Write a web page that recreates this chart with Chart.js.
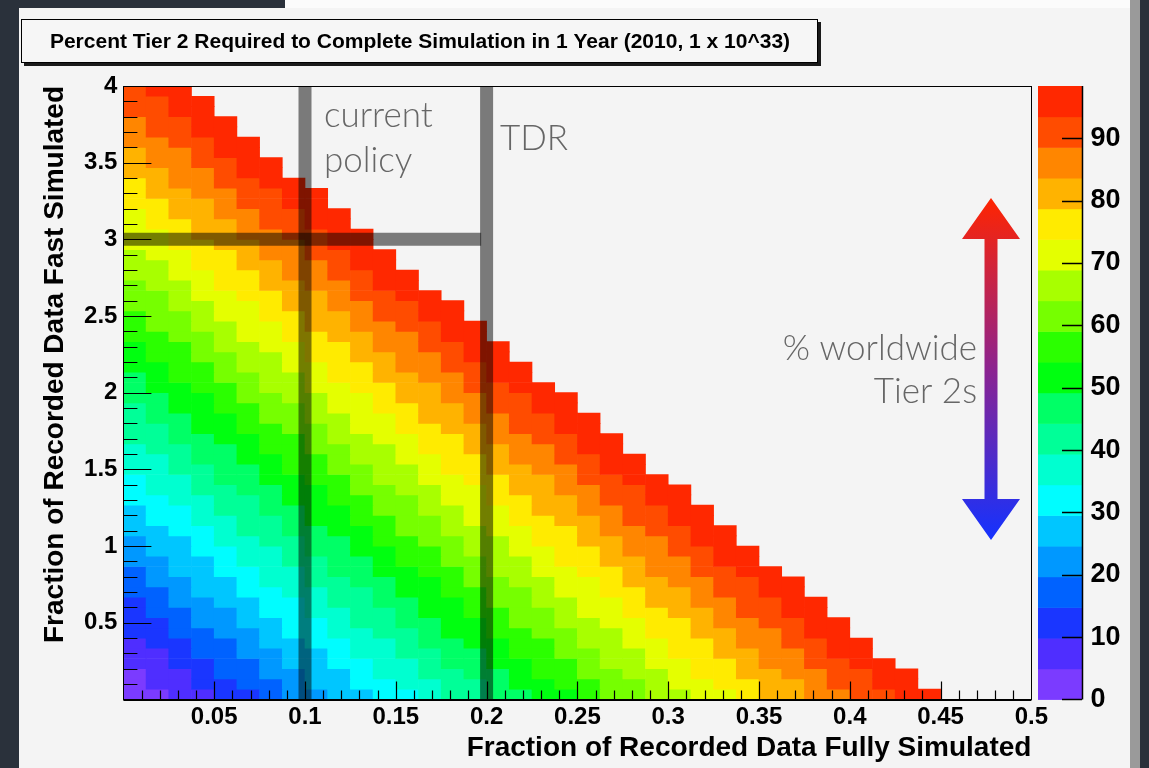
<!DOCTYPE html>
<html>
<head>
<meta charset="utf-8">
<title>Percent Tier 2 Required to Complete Simulation in 1 Year</title>
<script src="https://cdn.jsdelivr.net/npm/chart.js@4.4.0/dist/chart.umd.min.js"></script>
<style>
  html, body { margin: 0; padding: 0; background: #2a313b; }
  canvas { display: block; }
</style>
</head>
<body>
<canvas id="chart" width="1149" height="768"></canvas>
<script>
'use strict';

// ── Data ──
// % of worldwide Tier 2 used by full simulation, one value per x bin (width 0.0125)
const fullSimPct = [
  0.0, 2.8, 5.6, 8.4, 11.2, 14.0, 16.8, 19.6, 22.4, 25.2,
  28.0, 30.8, 33.6, 36.4, 39.2, 42.0, 44.8, 47.6, 50.4, 53.2,
  56.0, 58.8, 61.6, 64.4, 67.2, 70.0, 72.8, 75.6, 78.4, 81.2,
  84.0, 86.8, 89.6, 92.4, 95.2, 98.0
];
// % used by fast simulation, one value per y bin (width 4/60)
const fastSimPct = [
  0.7, 2.2, 3.8, 5.3, 6.9, 8.4, 10.0, 11.5, 13.1, 14.6,
  16.2, 17.7, 19.3, 20.8, 22.4, 23.9, 25.5, 27.0, 28.6, 30.1,
  31.7, 33.2, 34.8, 36.3, 37.9, 39.4, 41.0, 42.5, 44.1, 45.6,
  47.2, 48.7, 50.3, 51.8, 53.4, 54.9, 56.5, 58.0, 59.6, 61.1,
  62.7, 64.2, 65.8, 67.3, 68.9, 70.4, 72.0, 73.5, 75.1, 76.6,
  78.2, 79.7, 81.3, 82.8, 84.4, 85.9, 87.5, 89.0, 90.6, 92.1
];
const cutoffPct = 99.05;   // cells above this stay empty
const zMax = 98.4;         // top of the colour scale
const nLevels = 20;

const xBinWidth = 0.0125;
const yBinWidth = 4 / 60;

// marker lines: current policy, TDR, fast simulation fraction
const currentPolicyFull = 0.1;
const tdrFull = 0.2;
const policyFast = 3;

const xTickValues = [0.05, 0.1, 0.15, 0.2, 0.25, 0.3, 0.35, 0.4, 0.45, 0.5];
const xTickLabels = ['0.05', '0.1', '0.15', '0.2', '0.25', '0.3', '0.35', '0.4', '0.45', '0.5'];
const yTickValues = [0.5, 1, 1.5, 2, 2.5, 3, 3.5, 4];
const yTickLabels = ['0.5', '1', '1.5', '2', '2.5', '3', '3.5', '4'];
const zTickValues = [0, 10, 20, 30, 40, 50, 60, 70, 80, 90];
const zTickLabels = ['0', '10', '20', '30', '40', '50', '60', '70', '80', '90'];

const palette = [
  '#7b3bff', '#4f2eff', '#1a36ff', '#0062ff', '#0098ff',
  '#00c6ff', '#00fdff', '#00ffd0', '#00ff98', '#00ff66',
  '#00ff10', '#2bff00', '#76ff00', '#a8ff00', '#e4ff00',
  '#ffeb00', '#ffb300', '#ff8600', '#ff4c00', '#ff2800'
];

const FONT = '"Liberation Sans", Arial, Helvetica, sans-serif';
const LIGHT_FONT = '"Lato", "Liberation Sans", Arial, sans-serif';

function levelOf(pct) {
  return Math.max(0, Math.min(nLevels - 1, Math.floor(pct / (zMax / nLevels))));
}

// ── Build histogram cells ──
const cells = [];
fastSimPct.forEach((fast, j) => {
  fullSimPct.forEach((full, i) => {
    const pct = full + fast;
    if (pct > cutoffPct) return;
    cells.push({ x: (i + 0.5) * xBinWidth, y: [j * yBinWidth, (j + 1) * yBinWidth], pct });
  });
});

function markerLine(points) {
  return {
    type: 'line',
    data: points,
    borderColor: 'rgba(0,0,0,0.5)',
    borderWidth: 13,
    borderCapStyle: 'butt',
    pointRadius: 0,
    fill: false,
    order: 1
  };
}

function fixedTicks(values) {
  return scale => { scale.ticks = values.map(v => ({ value: v })); };
}

// keep the label overhang of vertical axes from pushing the plot area
function fixWidth(w) {
  return s => { s.width = w; s.paddingTop = 0; s.paddingBottom = 0; };
}

// ── Decorations: slide background, title box, ROOT ticks, palette, notes ──
const rootStyle = {
  id: 'rootStyle',
  beforeDraw(chart) {
    const { ctx } = chart;
    ctx.save();
    ctx.fillStyle = '#2a313b';
    ctx.fillRect(0, 0, chart.width, chart.height);
    ctx.fillStyle = '#fbfbfb';
    ctx.fillRect(285, 0, 845, 8);
    ctx.fillStyle = '#f4f4f4';
    ctx.fillRect(19, 8, 1111, 760);
    ctx.fillStyle = '#9a9a9a';
    ctx.fillRect(1130, 0, 10, 768);

    // title box with shadow
    ctx.fillStyle = '#1a1a1a';
    ctx.fillRect(24, 22, 797, 44);
    ctx.fillStyle = '#f6f6f6';
    ctx.fillRect(21, 19, 797, 44);
    ctx.strokeStyle = '#000';
    ctx.lineWidth = 1;
    ctx.strokeRect(21.5, 19.5, 796, 43);
    ctx.fillStyle = '#000';
    ctx.font = `bold 21px ${FONT}`;
    ctx.textAlign = 'center';
    ctx.textBaseline = 'middle';
    ctx.fillText('Percent Tier 2 Required to Complete Simulation in 1 Year (2010, 1 x 10^33)', 420, 42, 756);
    ctx.restore();
  },
  afterDatasetsDraw(chart) {
    const { ctx, chartArea: a, scales: { x, y, z } } = chart;
    ctx.save();
    ctx.strokeStyle = '#000';
    ctx.lineWidth = 1.2;
    ctx.beginPath();
    // inward ticks, x: minor 0.01, major 0.05
    for (let k = 1; k < 50; k++) {
      const px = Math.round(x.getPixelForValue(k * 0.01)) + 0.5;
      const len = k % 5 === 0 ? 18 : 9;
      ctx.moveTo(px, a.bottom);
      ctx.lineTo(px, a.bottom - len);
    }
    // y: minor 0.1, major 0.5
    for (let k = 1; k < 40; k++) {
      const py = Math.round(y.getPixelForValue(k * 0.1)) + 0.5;
      const len = k % 5 === 0 ? 28 : 14;
      ctx.moveTo(a.left, py);
      ctx.lineTo(a.left + len, py);
    }
    ctx.stroke();

    // frame
    ctx.lineWidth = 1;
    ctx.strokeRect(Math.round(a.left) + 0.5, Math.round(a.top) + 0.5,
      Math.round(a.right - a.left), Math.round(a.bottom - a.top));
    ctx.lineWidth = 2;
    ctx.beginPath();
    ctx.moveTo(a.left, a.bottom + 0.5);
    ctx.lineTo(a.right, a.bottom + 0.5);
    ctx.stroke();

    // colour palette
    const pl = 1038, pr = 1082;
    for (let k = 0; k < nLevels; k++) {
      const y0 = z.getPixelForValue(k * zMax / nLevels);
      const y1 = z.getPixelForValue((k + 1) * zMax / nLevels);
      ctx.fillStyle = palette[k];
      ctx.fillRect(pl, y1, pr - pl, y0 - y1 + 0.5);
    }
    ctx.lineWidth = 1.5;
    ctx.beginPath();
    ctx.moveTo(pr + 0.5, a.top);
    ctx.lineTo(pr + 0.5, a.bottom);
    zTickValues.forEach(v => {
      const py = Math.round(z.getPixelForValue(v)) + 0.5;
      ctx.moveTo(pr - 20, py);
      ctx.lineTo(pr, py);
    });
    ctx.stroke();

    // notes
    ctx.fillStyle = '#666';
    ctx.font = `300 35px ${LIGHT_FONT}`;
    ctx.textBaseline = 'alphabetic';
    ctx.textAlign = 'left';
    ctx.fillText('current', 324, 127);
    ctx.fillText('policy', 324, 172);
    ctx.fillText('TDR', 500, 150);
    ctx.textAlign = 'right';
    ctx.fillText('% worldwide', 977, 360);
    ctx.fillText('Tier 2s', 977, 403);

    // double arrow
    const ax = 991, top = 198, bot = 540, head = 41, hw = 29, sw = 6.5;
    const g = ctx.createLinearGradient(0, top, 0, bot);
    g.addColorStop(0, '#ff2400');
    g.addColorStop(0.5, '#8c2390');
    g.addColorStop(1, '#1432ff');
    ctx.fillStyle = g;
    ctx.beginPath();
    ctx.moveTo(ax, top);
    ctx.lineTo(ax + hw, top + head);
    ctx.lineTo(ax + sw, top + head);
    ctx.lineTo(ax + sw, bot - head);
    ctx.lineTo(ax + hw, bot - head);
    ctx.lineTo(ax, bot);
    ctx.lineTo(ax - hw, bot - head);
    ctx.lineTo(ax - sw, bot - head);
    ctx.lineTo(ax - sw, top + head);
    ctx.lineTo(ax - hw, top + head);
    ctx.closePath();
    ctx.fill();
    ctx.restore();
  }
};

const tickFont = { family: FONT, weight: 'bold', size: 24 };
const titleFont = { family: FONT, weight: 'bold', size: 28 };

new Chart(document.getElementById('chart'), {
  type: 'bar',
  plugins: [rootStyle],
  data: {
    datasets: [
      {
        label: 'Percent Tier 2',
        data: cells,
        backgroundColor: c => (c.raw ? palette[levelOf(c.raw.pct)] : palette[0]),
        borderWidth: 0,
        barPercentage: 1,
        categoryPercentage: 1,
        order: 3
      },
      markerLine([{ x: currentPolicyFull, y: 0 }, { x: currentPolicyFull, y: 4 }]),
      markerLine([{ x: tdrFull, y: 0 }, { x: tdrFull, y: 4 }]),
      markerLine([{ x: 0, y: policyFast }, { x: tdrFull - 0.003, y: policyFast }])
    ]
  },
  options: {
    responsive: false,
    devicePixelRatio: 1,
    animation: false,
    events: [],
    layout: { padding: { top: 86, left: 0, right: 0, bottom: 0 } },
    plugins: { legend: { display: false }, tooltip: { enabled: false } },
    scales: {
      x: {
        type: 'linear', min: 0, max: 0.5, offset: false,
        grid: { display: false, drawTicks: false, offset: false },
        border: { display: false },
        afterBuildTicks: fixedTicks(xTickValues),
        afterFit: s => { s.height = 68.6; s.paddingLeft = 0; s.paddingRight = 0; },
        ticks: {
          color: '#000', font: tickFont, padding: 4, maxRotation: 0, autoSkip: false,
          callback: (v, i) => xTickLabels[i]
        },
        title: {
          display: true, text: 'Fraction of Recorded Data Fully Simulated', align: 'end',
          color: '#000', font: titleFont, padding: { top: 0, bottom: 3 }
        }
      },
      y: {
        type: 'linear', min: 0, max: 4,
        grid: { display: false, drawTicks: false },
        border: { display: false },
        afterBuildTicks: fixedTicks(yTickValues),
        afterFit: fixWidth(123.4),
        ticks: {
          color: '#000', font: tickFont, padding: 6, autoSkip: false,
          callback: (v, i) => yTickLabels[i]
        },
        title: {
          display: true, text: 'Fraction of Recorded Data Fast Simulated', align: 'end',
          color: '#000', font: titleFont, padding: { top: 38, bottom: 0 }
        }
      },
      z: {
        type: 'linear', position: 'right', min: 0, max: zMax,
        grid: { display: false, drawTicks: false },
        border: { display: false },
        afterBuildTicks: fixedTicks(zTickValues),
        afterFit: fixWidth(117.6),
        ticks: {
          color: '#000', font: { family: FONT, weight: 'bold', size: 27 }, padding: 59, autoSkip: false,
          callback: (v, i) => zTickLabels[i]
        }
      }
    }
  }
});
</script>
</body>
</html>
